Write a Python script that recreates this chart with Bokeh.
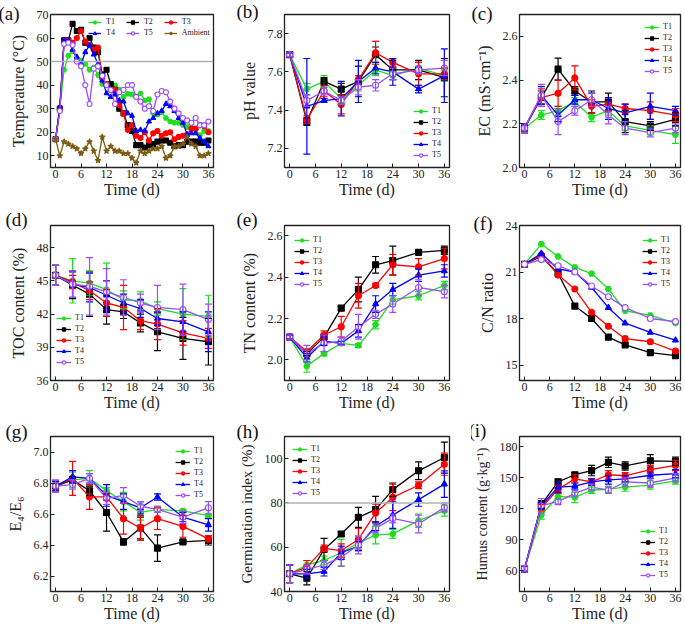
from bokeh.plotting import figure
from bokeh.layouts import gridplot
from bokeh.models import (ColumnDataSource, Whisker, TeeHead, Legend, LegendItem,
                          FixedTicker, Title, Span, NumeralTickFormatter, Range1d)
from bokeh.embed import file_html
from bokeh.resources import INLINE

FONT = "Liberation Serif"

# ---------------- data ----------------
days = list(range(37))
tx = [0, 4, 8, 12, 16, 20, 24, 30, 36]
xticks = [0, 6, 12, 18, 24, 30, 36]

temp_T1 = [17, 30.5, 46.5, 52.5, 54.5, 51, 50.5, 49, 46.5, 47.5, 44.3, 40.5, 40.5, 39.5, 40, 38, 35, 36.3, 36, 35,
           36.5, 33.5, 34, 28, 27.5, 28.5, 26, 24.5, 24, 24, 23, 22.2, 22, 21, 18.7, 20.5, 20.5]
temp_T2 = [17, 30, 59, 59, 66, 63, 63.5, 58, 60, 56, 54, 44.5, 46.5, 40.5, 38, 30, 28, 23, 20.5, 14.5,
           14.5, 13.5, 14.5, 15, 16, 16.5, 16.5, 15.5, 14, 14.5, 14.5, 16, 16, 16, 15.5, 15.5, 16.5]
temp_T3 = [17, 30, 58.5, 59, 58, 60, 63, 58.5, 57, 55, 56, 43, 40.5, 38, 38, 31.5, 28, 21, 23, 18.5,
           17.5, 20, 16.5, 19.5, 20.5, 18.5, 19.5, 20, 17, 18, 18.5, 19, 21.5, 21.5, 23, 22.5, 20]
temp_T4 = [17, 30.5, 59, 59, 55, 52, 49, 54, 57, 53, 49, 42, 36.5, 35, 36, 33.5, 33, 28, 27, 20.5,
           21, 20.5, 24.5, 26, 28, 29, 32, 31, 29, 26, 24, 19, 19.5, 19.5, 17.5, 16, 14]
temp_T5 = [17, 29, 57.5, 58, 57, 50, 48, 40, 32, 47, 48, 44, 40, 38, 32, 37, 38, 40, 40, 35,
           33, 30, 31, 29, 36, 37.5, 37, 33, 30, 28, 26, 25, 24, 26, 23, 23, 24.5]
temp_Amb = [17, 10, 16, 15, 14, 13, 11, 13, 16, 12, 8, 18, 12, 14, 12, 12, 11, 11, 9, 7,
            12, 11, 12, 13, 13, 14, 9, 10, 14, 14, 15, 18, 15, 14, 10, 10, 11]

ph_T1 = [7.69, 7.51, 7.55, 7.46, 7.53, 7.61, 7.58, 7.62, 7.58]
ph_T2 = [7.69, 7.34, 7.55, 7.51, 7.55, 7.69, 7.61, 7.61, 7.57]
ph_T3 = [7.69, 7.35, 7.50, 7.43, 7.56, 7.70, 7.65, 7.59, 7.59]
ph_T4 = [7.69, 7.42, 7.45, 7.46, 7.55, 7.62, 7.60, 7.51, 7.58]
ph_T5 = [7.69, 7.45, 7.50, 7.45, 7.52, 7.53, 7.59, 7.61, 7.62]
ph_T1_err = [0.01, 0.03, 0.03, 0.02, 0.03, 0.03, 0.02, 0.03, 0.03]
ph_T2_err = [0.01, 0.02, 0.02, 0.03, 0.08, 0.04, 0.05, 0.05, 0.10]
ph_T3_err = [0.01, 0.02, 0.03, 0.05, 0.02, 0.06, 0.02, 0.06, 0.03]
ph_T4_err = [0.01, 0.25, 0.01, 0.09, 0.11, 0.03, 0.07, 0.02, 0.14]
ph_T5_err = [0.01, 0.03, 0.02, 0.02, 0.04, 0.03, 0.03, 0.02, 0.04]

ec_T1 = [2.18, 2.24, 2.26, 2.30, 2.23, 2.26, 2.19, 2.17, 2.15]
ec_T2 = [2.18, 2.32, 2.45, 2.35, 2.30, 2.30, 2.21, 2.19, 2.22]
ec_T3 = [2.18, 2.32, 2.34, 2.41, 2.28, 2.29, 2.27, 2.26, 2.24]
ec_T4 = [2.18, 2.33, 2.24, 2.31, 2.31, 2.27, 2.25, 2.28, 2.26]
ec_T5 = [2.18, 2.33, 2.21, 2.26, 2.31, 2.24, 2.18, 2.16, 2.18]
ec_T1_err = [0.02, 0.02, 0.02, 0.02, 0.02, 0.02, 0.02, 0.02, 0.04]
ec_T2_err = [0.02, 0.03, 0.05, 0.02, 0.05, 0.04, 0.05, 0.02, 0.03]
ec_T3_err = [0.02, 0.04, 0.06, 0.055, 0.03, 0.03, 0.02, 0.04, 0.03]
ec_T4_err = [0.02, 0.04, 0.03, 0.02, 0.03, 0.05, 0.04, 0.06, 0.02]
ec_T5_err = [0.02, 0.05, 0.06, 0.02, 0.03, 0.04, 0.03, 0.02, 0.02]

toc_T1 = [45.5, 45.0, 44.8, 44.2, 43.3, 43.2, 42.5, 42.0, 41.8]
toc_T2 = [45.5, 44.6, 43.8, 42.4, 42.2, 41.2, 40.4, 39.8, 39.5]
toc_T3 = [45.5, 44.9, 44.1, 43.0, 42.6, 41.4, 41.1, 40.3, 39.8]
toc_T4 = [45.5, 44.7, 44.4, 43.7, 43.0, 42.5, 41.6, 41.3, 40.4]
toc_T5 = [45.5, 44.7, 44.5, 44.0, 43.5, 43.0, 42.6, 42.4, 41.5]
toc_T1_err = [0.9, 2.0, 1.1, 2.4, 0.8, 0.8, 0.6, 2.3, 1.9]
toc_T2_err = [0.9, 1.2, 2.0, 1.3, 0.6, 0.8, 1.7, 1.9, 2.1]
toc_T3_err = [0.9, 0.6, 0.8, 1.2, 2.0, 0.8, 1.4, 1.1, 0.9]
toc_T4_err = [0.9, 1.2, 1.3, 1.3, 0.8, 0.8, 0.6, 0.9, 1.8]
toc_T5_err = [0.9, 1.2, 2.6, 2.1, 1.6, 0.8, 2.0, 2.3, 1.4]

tn_T1 = [2.11, 1.97, 2.03, 2.08, 2.07, 2.17, 2.29, 2.31, 2.36]
tn_T2 = [2.11, 2.03, 2.11, 2.25, 2.34, 2.46, 2.48, 2.52, 2.53]
tn_T3 = [2.11, 2.04, 2.12, 2.16, 2.31, 2.36, 2.46, 2.45, 2.49]
tn_T4 = [2.11, 2.01, 2.09, 2.08, 2.14, 2.27, 2.34, 2.41, 2.43]
tn_T5 = [2.11, 2.03, 2.08, 2.09, 2.16, 2.22, 2.27, 2.35, 2.33]
tn_T1_err = [0.01, 0.03, 0.01, 0.01, 0.01, 0.02, 0.02, 0.02, 0.02]
tn_T2_err = [0.01, 0.01, 0.01, 0.01, 0.06, 0.04, 0.07, 0.01, 0.02]
tn_T3_err = [0.01, 0.01, 0.02, 0.05, 0.06, 0.01, 0.05, 0.04, 0.05]
tn_T4_err = [0.01, 0.02, 0.02, 0.01, 0.03, 0.04, 0.03, 0.03, 0.03]
tn_T5_err = [0.01, 0.04, 0.04, 0.02, 0.06, 0.02, 0.04, 0.04, 0.03]

cn_T1 = [21.5, 22.8, 22.0, 21.3, 20.9, 19.9, 18.5, 18.2, 17.7]
cn_T2 = [21.5, 22.0, 20.9, 18.8, 18.0, 16.8, 16.3, 15.8, 15.6]
cn_T3 = [21.5, 22.1, 20.8, 19.9, 18.4, 17.5, 16.7, 16.5, 15.9]
cn_T4 = [21.5, 22.2, 21.2, 21.0, 20.0, 18.7, 17.7, 17.1, 16.6]
cn_T5 = [21.5, 21.8, 21.4, 21.0, 20.1, 19.4, 18.7, 18.0, 17.8]

e46_T1 = [6.78, 6.82, 6.83, 6.75, 6.68, 6.61, 6.63, 6.62, 6.59]
e46_T2 = [6.78, 6.82, 6.75, 6.61, 6.42, 6.51, 6.38, 6.42, 6.43]
e46_T3 = [6.78, 6.83, 6.71, 6.71, 6.57, 6.51, 6.57, 6.52, 6.44]
e46_T4 = [6.78, 6.84, 6.83, 6.72, 6.68, 6.64, 6.71, 6.58, 6.53]
e46_T5 = [6.78, 6.79, 6.83, 6.70, 6.72, 6.65, 6.63, 6.58, 6.64]
e46_T1_err = [0.03, 0.05, 0.05, 0.02, 0.06, 0.05, 0.02, 0.01, 0.01]
e46_T2_err = [0.03, 0.02, 0.03, 0.12, 0.02, 0.07, 0.085, 0.01, 0.03]
e46_T3_err = [0.03, 0.11, 0.08, 0.02, 0.10, 0.08, 0.07, 0.07, 0.02]
e46_T4_err = [0.03, 0.04, 0.03, 0.07, 0.05, 0.04, 0.02, 0.03, 0.04]
e46_T5_err = [0.04, 0.03, 0.03, 0.04, 0.05, 0.03, 0.02, 0.04, 0.04]

gi_T1 = [48, 52, 54, 57.5, 62, 65.5, 66, 72, 76.5]
gi_T2 = [48, 46, 59, 66, 73.5, 77, 86, 94.5, 100.5]
gi_T3 = [48, 51, 59.5, 58.5, 63.5, 75.5, 82.5, 88, 97.5]
gi_T4 = [48, 48, 49, 57.5, 60.5, 69.5, 74.5, 81.5, 88.5]
gi_T5 = [48, 50, 52, 55.5, 61, 68.5, 73, 70.5, 78]
gi_T1_err = [4, 2, 2, 6, 3, 4, 2, 3, 2.5]
gi_T2_err = [4, 3, 5, 1, 4.5, 6, 3, 4, 7]
gi_T3_err = [4, 3, 1.5, 3, 5, 4, 6, 1.5, 5]
gi_T4_err = [4, 2, 2, 3, 2, 2, 6, 3, 6]
gi_T5_err = [4, 2, 2, 4, 4, 2, 2, 4, 2]

hu_T1 = [62, 114, 132, 131, 138, 139, 141, 143, 147]
hu_T2 = [62, 124, 146, 153, 157, 165, 161.5, 166.5, 166]
hu_T3 = [62, 121, 139, 149, 146, 153, 152, 158, 162]
hu_T4 = [62, 123, 141, 142, 146, 148, 149, 152.5, 154]
hu_T5 = [62, 123, 127, 135, 141, 138, 146, 145, 150]
hu_T1_err = [3, 4, 3, 5, 3, 3, 4, 4, 3]
hu_T2_err = [3, 4, 3, 2, 5, 5, 4, 6, 4]
hu_T3_err = [3, 3, 4, 4, 3, 4, 3, 4, 5]
hu_T4_err = [3, 3, 5, 3, 3, 4, 3, 3, 4]
hu_T5_err = [3, 7, 3, 3, 3, 3, 4, 4, 4]

# ---------------- styles / layout ----------------
STY = {
    "T1": dict(color="#1fdd1f", marker="hex", fill="#1fdd1f"),
    "T2": dict(color="#000000", marker="square", fill="#000000"),
    "T3": dict(color="#ff0000", marker="circle", fill="#ff0000"),
    "T4": dict(color="#0000ff", marker="triangle", fill="#0000ff"),
    "T5": dict(color="#9a4dff", marker="circle", fill="#ffffff"),
    "Ambient": dict(color="#7b5c12", marker="star", fill="#7b5c12"),
}

FW = [163, 165, 161]
BL = [50, 48, 48]
BR = [22, 22, 5]
FH = [153, 155, 155]
BT = [14, 22, 20]
BB = [36, 36, 36]
TAG_H = 21  # estimated text height of the panel tags


def panel(col, row, ylab, yr, yticks, tag, rel_x, ctr_y, fmt=None, ylab_size="16px"):
    p = figure(frame_width=FW[col], frame_height=FH[row],
               x_range=Range1d(-1.2, 37.2), y_range=Range1d(*yr),
               output_backend="svg", toolbar_location=None,
               min_border_left=BL[col], min_border_right=BR[col],
               min_border_top=BT[row], min_border_bottom=BB[row])
    p.xgrid.visible = False
    p.ygrid.visible = False
    p.outline_line_color = "#222222"
    p.outline_line_width = 1.3
    for ax in (p.xaxis[0], p.yaxis[0]):
        ax.major_tick_in = 4
        ax.major_tick_out = 0
        ax.minor_tick_in = 0
        ax.minor_tick_out = 0
        ax.major_label_text_font = FONT
        ax.major_label_text_font_size = "12px"
        ax.major_label_text_color = "#222222"
        ax.axis_label_text_font = FONT
        ax.axis_label_text_font_size = "16px"
        ax.axis_label_text_font_style = "normal"
        ax.axis_label_text_color = "#222222"
        ax.axis_line_color = "#222222"
        ax.major_tick_line_color = "#222222"
        ax.major_label_standoff = 2
    p.xaxis[0].axis_label_standoff = 0
    p.yaxis[0].axis_label_standoff = 7
    p.yaxis[0].axis_label_text_font_size = ylab_size
    p.xaxis.ticker = FixedTicker(ticks=xticks)
    p.xaxis.axis_label = "Time (d)"
    p.yaxis.ticker = FixedTicker(ticks=yticks)
    p.yaxis.axis_label = ylab
    if fmt:
        p.yaxis.formatter = NumeralTickFormatter(format=fmt)
    size = max(2 * ctr_y, 1)
    p.add_layout(Title(text=tag, align="left", vertical_align="middle",
                       offset=rel_x - 5, standoff=size - 2 - TAG_H,
                       text_font=FONT, text_font_size="19px", text_font_style="normal",
                       text_color="#111111"), "above")
    return p


def series(p, name, x, y, err=None, size=6):
    s = STY[name]
    d = dict(x=x, y=y)
    if err is not None:
        d["lo"] = [a - e for a, e in zip(y, err)]
        d["hi"] = [a + e for a, e in zip(y, err)]
    src = ColumnDataSource(d)
    if err is not None:
        w = Whisker(source=src, base="x", upper="hi", lower="lo",
                    line_color=s["color"], line_width=1.2, level="glyph",
                    upper_head=TeeHead(size=7, line_color=s["color"], line_width=1.2),
                    lower_head=TeeHead(size=7, line_color=s["color"], line_width=1.2))
        p.add_layout(w)
    l = p.line("x", "y", source=src, line_color=s["color"], line_width=1.3)
    m = p.scatter("x", "y", source=src, marker=s["marker"], size=size,
                  fill_color=s["fill"], line_color=s["color"], line_width=1.1)
    return LegendItem(label=name, renderers=[l, m])


def legend(p, items, loc, margin=4, glyph_width=15, label_standoff=4, spacing=2, **kw):
    lg = Legend(items=items, location=loc, margin=margin,
                background_fill_alpha=0, border_line_alpha=0,
                label_text_font=FONT, label_text_font_size="8px",
                label_text_color="#222222",
                glyph_height=8, glyph_width=glyph_width, label_height=8, label_width=8,
                label_standoff=label_standoff, spacing=spacing, padding=2, **kw)
    p.add_layout(lg)


# (a) temperature
pa = panel(0, 0, "Temperature (°C)", (5, 70), [10, 20, 30, 40, 50, 60, 70], "(a)", -47, 1)
pa.add_layout(Span(location=50, dimension="width", line_color="#b0b0b0", line_width=1.5))
ia = [series(pa, "T1", days, temp_T1, size=5),
      series(pa, "T2", days, temp_T2, size=5),
      series(pa, "T3", days, temp_T3, size=5),
      series(pa, "T4", days, temp_T4, size=5),
      series(pa, "T5", days, temp_T5, size=5),
      series(pa, "Ambient", days, temp_Amb, size=6)]
legend(pa, ia[:3], (36, FH[0] - 14), margin=0, orientation="horizontal",
       glyph_width=13, label_standoff=5, spacing=11)
legend(pa, ia[3:], (36, FH[0] - 25), margin=0, orientation="horizontal",
       glyph_width=13, label_standoff=5, spacing=11)

# (b) pH
pb = panel(1, 0, "pH value", (7.1, 7.9), [7.2, 7.4, 7.6, 7.8], "(b)", -43, 3)
ib = [series(pb, "T1", tx, ph_T1, ph_T1_err), series(pb, "T2", tx, ph_T2, ph_T2_err),
      series(pb, "T3", tx, ph_T3, ph_T3_err), series(pb, "T4", tx, ph_T4, ph_T4_err),
      series(pb, "T5", tx, ph_T5, ph_T5_err)]
legend(pb, ib, "bottom_right", margin=6)

# (c) EC
pc = panel(2, 0, "EC (mS·cm⁻¹)", (2.0, 2.7), [2.0, 2.2, 2.4, 2.6], "(c)", -43, 1, fmt="0.0")
ic = [series(pc, "T1", tx, ec_T1, ec_T1_err), series(pc, "T2", tx, ec_T2, ec_T2_err),
      series(pc, "T3", tx, ec_T3, ec_T3_err), series(pc, "T4", tx, ec_T4, ec_T4_err),
      series(pc, "T5", tx, ec_T5, ec_T5_err)]
legend(pc, ic, "top_right", margin=6)

# (d) TOC
pd_ = panel(0, 1, "TOC content (%)", (36, 50), [36, 39, 42, 45, 48], "(d)", -40, 6)
idd = [series(pd_, "T1", tx, toc_T1, toc_T1_err), series(pd_, "T2", tx, toc_T2, toc_T2_err),
       series(pd_, "T3", tx, toc_T3, toc_T3_err), series(pd_, "T4", tx, toc_T4, toc_T4_err),
       series(pd_, "T5", tx, toc_T5, toc_T5_err)]
legend(pd_, idd, (4, 12), margin=0)

# (e) TN
pe = panel(1, 1, "TN content (%)", (1.9, 2.65), [2.0, 2.2, 2.4, 2.6], "(e)", -43, 6, fmt="0.0")
ie = [series(pe, "T1", tx, tn_T1, tn_T1_err), series(pe, "T2", tx, tn_T2, tn_T2_err),
      series(pe, "T3", tx, tn_T3, tn_T3_err), series(pe, "T4", tx, tn_T4, tn_T4_err),
      series(pe, "T5", tx, tn_T5, tn_T5_err)]
legend(pe, ie, "top_left", margin=8)

# (f) C/N
pf = panel(2, 1, "C/N ratio", (14, 24), [15, 18, 21, 24], "(f)", -41, 2)
iff = [series(pf, "T1", tx, cn_T1), series(pf, "T2", tx, cn_T2), series(pf, "T3", tx, cn_T3),
       series(pf, "T4", tx, cn_T4), series(pf, "T5", tx, cn_T5)]
legend(pf, iff, "top_right", margin=8)

# (g) E4/E6
pg = panel(0, 2, "E₄/E₆", (6.1, 7.1), [6.2, 6.4, 6.6, 6.8, 7.0], "(g)", -40, 5, fmt="0.0")
ig = [series(pg, "T1", tx, e46_T1, e46_T1_err), series(pg, "T2", tx, e46_T2, e46_T2_err),
      series(pg, "T3", tx, e46_T3, e46_T3_err), series(pg, "T4", tx, e46_T4, e46_T4_err),
      series(pg, "T5", tx, e46_T5, e46_T5_err)]
legend(pg, ig, "top_right", margin=8)

# (h) Germination index
ph = panel(1, 2, "Germination index (%)", (40, 110), [40, 60, 80, 100], "(h)", -43, 5,
           ylab_size="15px")
ph.add_layout(Span(location=80, dimension="width", line_color="#b0b0b0", line_width=1.5))
ih = [series(ph, "T1", tx, gi_T1, gi_T1_err), series(ph, "T2", tx, gi_T2, gi_T2_err),
      series(ph, "T3", tx, gi_T3, gi_T3_err), series(ph, "T4", tx, gi_T4, gi_T4_err),
      series(ph, "T5", tx, gi_T5, gi_T5_err)]
legend(ph, ih, "top_left", margin=6)

# (i) Humus
pi = panel(2, 2, "Humus content (g·kg⁻¹)", (40, 190), [60, 90, 120, 150, 180], "(i)", -46, 6,
           ylab_size="14px")
ii = [series(pi, "T1", tx, hu_T1, hu_T1_err), series(pi, "T2", tx, hu_T2, hu_T2_err),
      series(pi, "T3", tx, hu_T3, hu_T3_err), series(pi, "T4", tx, hu_T4, hu_T4_err),
      series(pi, "T5", tx, hu_T5, hu_T5_err)]
legend(pi, ii, "bottom_right", margin=10)

grid = gridplot([[pa, pb, pc], [pd_, pe, pf], [pg, ph, pi]], toolbar_location=None)

open("out.html", "w").write(file_html(grid, INLINE))
